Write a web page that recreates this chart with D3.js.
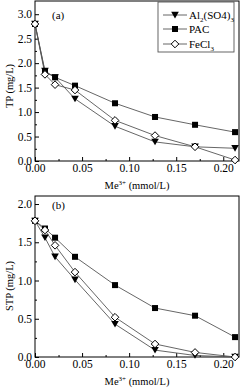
<!DOCTYPE html>
<html><head><meta charset="utf-8">
<script src="https://cdn.jsdelivr.net/npm/d3@7"></script>
<style>body{margin:0;background:#fff}svg{display:block}text{font-family:"Liberation Serif","Times New Roman",serif;fill:#000}</style>
</head><body><svg id="c" width="243" height="389"></svg>
<script>
const doses = [0, 0.0106, 0.0213, 0.0425, 0.085, 0.1275, 0.17, 0.2125];
const seriesNames = ["Al2(SO4)3", "PAC", "FeCl3"];
const tpAl = [2.8, 1.84, 1.71, 1.27, 0.71, 0.39, 0.29, 0.26];
const tpPAC = [2.8, 1.82, 1.71, 1.54, 1.18, 0.90, 0.74, 0.59];
const tpFe = [2.8, 1.77, 1.56, 1.45, 0.83, 0.52, 0.29, 0.02];
const stpAl = [1.78, 1.56, 1.31, 1.01, 0.43, 0.09, 0.02, 0.0];
const stpPAC = [1.78, 1.68, 1.56, 1.31, 0.94, 0.64, 0.54, 0.26];
const stpFe = [1.78, 1.66, 1.46, 1.11, 0.52, 0.17, 0.06, 0.0];
const xTicks = [0, 0.05, 0.10, 0.15, 0.20];
const tpTicks = [0, 0.5, 1.0, 1.5, 2.0, 2.5, 3.0];
const stpTicks = [0, 0.5, 1.0, 1.5, 2.0];

const svg = d3.select("#c");
const markers = ["tri", "sq", "dia"];

function marker(g, type, x, y) {
  if (type === "tri") {
    g.append("path").attr("d", `M${x-3.8},${y-3.2}L${x+3.8},${y-3.2}L${x},${y+3.4}Z`).attr("fill", "#000");
  } else if (type === "sq") {
    g.append("rect").attr("x", x-3).attr("y", y-3).attr("width", 6).attr("height", 6).attr("fill", "#000");
  } else {
    g.append("path").attr("d", `M${x},${y-3.8}L${x+3.8},${y}L${x},${y+3.8}L${x-3.8},${y}Z`).attr("fill", "#fff").attr("stroke", "#000").attr("stroke-width", 1);
  }
}

function panel(top, bottom, yMax, yTicks, series, yLabel, tag, tagY, tickLabelY, titleY, yTitleY) {
  const x = d3.scaleLinear().domain([0, 0.2167]).range([35, 239]);
  const y = d3.scaleLinear().domain([0, yMax]).range([bottom, top]);
  const g = svg.append("g");
  const xMinor = d3.range(0.025, 0.216, 0.05);
  const xa = d3.axisBottom(x).tickValues(xTicks).tickFormat(d3.format(".2f")).tickSize(-4).tickSizeOuter(0);
  const xg = g.append("g").attr("transform", `translate(0,${bottom})`).call(xa);
  xg.select(".domain").remove();
  xg.selectAll("line").attr("stroke", "#000");
  xg.selectAll("text").attr("y", tickLabelY - bottom).attr("dy", 0).style("font-size", "11.5px").style("font-family", "Liberation Serif");
  const xm = d3.axisBottom(x).tickValues(xMinor).tickFormat("").tickSize(-2).tickSizeOuter(0);
  const xmg = g.append("g").attr("transform", `translate(0,${bottom})`).call(xm);
  xmg.select(".domain").remove(); xmg.selectAll("line").attr("stroke", "#000");
  const ya = d3.axisLeft(y).tickValues(yTicks).tickFormat(d3.format(".1f")).tickSize(-4).tickSizeOuter(0);
  const yg = g.append("g").attr("transform", `translate(35,0)`).call(ya);
  yg.select(".domain").remove();
  yg.selectAll("line").attr("stroke", "#000");
  yg.selectAll("text").attr("x", -3).style("font-size", "11.5px").style("font-family", "Liberation Serif");
  const yMinor = yTicks.slice(0, -1).map(v => v + 0.25);
  const ym = d3.axisLeft(y).tickValues(yMinor).tickFormat("").tickSize(-2).tickSizeOuter(0);
  const ymg = g.append("g").attr("transform", `translate(35,0)`).call(ym);
  ymg.select(".domain").remove(); ymg.selectAll("line").attr("stroke", "#000");
  g.append("rect").attr("x", 35).attr("y", top).attr("width", 204).attr("height", bottom - top).attr("fill", "none").attr("stroke", "#000").attr("stroke-width", 1);
  const line = d3.line().x((d, i) => x(doses[i])).y(d => y(d));
  series.forEach((s) => {
    g.append("path").attr("d", line(s)).attr("fill", "none").attr("stroke", "#555").attr("stroke-width", 0.9);
  });
  series.forEach((s, k) => {
    s.forEach((v, i) => marker(g, markers[k], x(doses[i]), y(v)));
  });
  g.append("text").attr("x", 52).attr("y", tagY).style("font-size", "11px").text(tag);
  const xt = g.append("text").attr("x", 137).attr("y", titleY).attr("text-anchor", "middle").style("font-size", "10.5px");
  xt.append("tspan").text("Me");
  xt.append("tspan").attr("dy", -4).style("font-size", "7px").text("3+");
  xt.append("tspan").attr("dy", 4).text(" (mmol/L)");
  g.append("text").attr("transform", `translate(13,${yTitleY}) rotate(-90)`).attr("text-anchor", "middle").style("font-size", "10.5px").text(yLabel);
}

panel(1, 161, 3.27, tpTicks, [tpAl, tpPAC, tpFe], "TP (mg/L)", "(a)", 19, 172, 189, 86);
panel(196, 357, 2.105, stpTicks, [stpAl, stpPAC, stpFe], "STP (mg/L)", "(b)", 209, 368, 385, 286);

const lg = svg.append("g");
lg.append("rect").attr("x", 158).attr("y", 2).attr("width", 76).attr("height", 50).attr("fill", "#fff").attr("stroke", "#555").attr("stroke-width", 0.9);
const legY = [15, 29, 44];
seriesNames.forEach((n, k) => {
  lg.append("line").attr("x1", 163).attr("x2", 187).attr("y1", legY[k]).attr("y2", legY[k]).attr("stroke", "#555").attr("stroke-width", 0.9);
  marker(lg, markers[k], 175, legY[k]);
  const t = lg.append("text").attr("x", 189).attr("y", legY[k] + 4).style("font-size", "11px");
  if (k === 0) {
    t.append("tspan").text("Al");
    t.append("tspan").attr("dy", 3).style("font-size", "7px").text("2");
    t.append("tspan").attr("dy", -3).text("(SO4)");
    t.append("tspan").attr("dy", 3).style("font-size", "7px").text("3");
  } else if (k === 1) {
    t.text("PAC");
  } else {
    t.append("tspan").text("FeCl");
    t.append("tspan").attr("dy", 3).style("font-size", "7px").text("3");
  }
});
</script></body></html>
